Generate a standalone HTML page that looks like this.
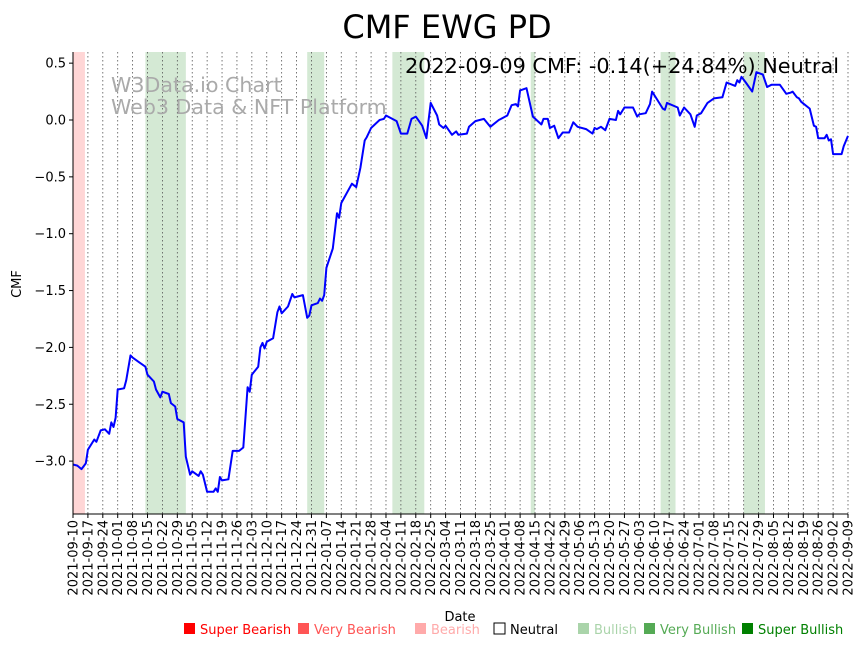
<!DOCTYPE html>
<html><head><meta charset="utf-8"><style>
body{margin:0;background:#fff;font-family:"DejaVu Sans","Liberation Sans",sans-serif}
svg text{font-family:"DejaVu Sans","Liberation Sans",sans-serif}
</style></head><body>
<svg id="chart" width="864" height="646" xmlns="http://www.w3.org/2000/svg">
<rect width="864" height="646" fill="#fff"/>
<g id="bands"></g><g id="grid"></g><g id="line"></g>
<text x="447" y="38" font-size="32" text-anchor="middle">CMF EWG PD</text>
<text x="111" y="92" font-size="20.6" fill="#aaa">W3Data.io Chart</text>
<text x="111" y="114" font-size="20.6" fill="#aaa">Web3 Data &amp; NFT Platform</text>
<text x="839" y="73" font-size="20.8" text-anchor="end">2022-09-09 CMF: -0.14(+24.84%) Neutral</text>
<g id="axes"></g>
<text transform="translate(21,284) rotate(-90)" font-size="13" text-anchor="middle">CMF</text>
<text x="460" y="621" font-size="13" text-anchor="middle">Date</text>
<g id="legend" font-size="13"></g>
</svg>
<script>
const days=[0,2,4,6,7,10,11,13,15,17,18,19,20,21,24,25,27,28,31,34,35,38,39,41,42,45,46,48,49,52,53,55,56,59,60,61,63,66,67,68,69,70,73,75,78,80,81,82,83,84,87,88,89,90,91,94,96,97,98,101,103,104,108,110,111,112,115,116,117,118,119,122,124,125,126,131,133,135,137,138,140,144,146,147,152,154,157,159,161,164,166,168,171,172,174,175,178,180,181,185,186,189,193,196,200,201,204,206,208,209,210,213,216,220,221,223,224,226,228,230,233,235,237,241,244,245,246,248,250,252,255,256,257,259,263,265,266,269,271,272,274,277,278,279,284,285,287,290,292,293,295,298,301,305,307,311,312,313,314,316,319,321,324,326,328,332,335,337,338,340,341,342,346,348,349,350,353,354,355,356,357,361,362,364];
const cmf=[-3.03,-3.04,-3.07,-3.02,-2.90,-2.81,-2.83,-2.73,-2.72,-2.76,-2.66,-2.70,-2.62,-2.37,-2.36,-2.29,-2.07,-2.09,-2.13,-2.17,-2.24,-2.30,-2.37,-2.44,-2.39,-2.41,-2.49,-2.52,-2.63,-2.66,-2.96,-3.12,-3.09,-3.13,-3.09,-3.12,-3.27,-3.27,-3.24,-3.27,-3.14,-3.17,-3.16,-2.91,-2.91,-2.88,-2.61,-2.35,-2.39,-2.24,-2.17,-2.00,-1.96,-2.01,-1.95,-1.92,-1.69,-1.64,-1.70,-1.64,-1.53,-1.56,-1.54,-1.74,-1.72,-1.63,-1.61,-1.57,-1.59,-1.54,-1.30,-1.13,-0.82,-0.86,-0.73,-0.56,-0.59,-0.42,-0.18,-0.15,-0.07,0.00,0.01,0.04,-0.01,-0.12,-0.12,0.01,0.03,-0.05,-0.16,0.15,0.04,-0.04,-0.07,-0.05,-0.13,-0.10,-0.13,-0.12,-0.06,-0.01,0.01,-0.06,0.00,0.01,0.04,0.13,0.14,0.12,0.26,0.28,0.03,-0.04,0.01,0.01,-0.07,-0.05,-0.16,-0.11,-0.11,-0.02,-0.06,-0.08,-0.12,-0.07,-0.08,-0.06,-0.09,0.01,0.00,0.08,0.05,0.11,0.11,0.03,0.05,0.06,0.14,0.25,0.19,0.10,0.09,0.15,0.11,0.04,0.11,0.05,-0.06,0.04,0.06,0.15,0.19,0.20,0.33,0.30,0.35,0.33,0.38,0.33,0.25,0.42,0.40,0.29,0.31,0.31,0.23,0.24,0.25,0.20,0.19,0.16,0.10,-0.05,-0.06,-0.16,-0.16,-0.13,-0.18,-0.17,-0.30,-0.30,-0.23,-0.14];
const bandStart=[0,34,110,150,215,276,315];
const bandEnd=[5.6,53,118,165,217,283,325];
const bandType=['red','green','green','green','green','green','green'];
const yTicks=[0.5,0,-0.5,-1,-1.5,-2,-2.5,-3];
const yTickLabels=['0.5','0.0','−0.5','−1.0','−1.5','−2.0','−2.5','−3.0'];
const xTickLabels=['2021-09-10','2021-09-17','2021-09-24','2021-10-01','2021-10-08','2021-10-15','2021-10-22','2021-10-29','2021-11-05','2021-11-12','2021-11-19','2021-11-26','2021-12-03','2021-12-10','2021-12-17','2021-12-24','2021-12-31','2022-01-07','2022-01-14','2022-01-21','2022-01-28','2022-02-04','2022-02-11','2022-02-18','2022-02-25','2022-03-04','2022-03-11','2022-03-18','2022-03-25','2022-04-01','2022-04-08','2022-04-15','2022-04-22','2022-04-29','2022-05-06','2022-05-13','2022-05-20','2022-05-27','2022-06-03','2022-06-10','2022-06-17','2022-06-24','2022-07-01','2022-07-08','2022-07-15','2022-07-22','2022-07-29','2022-08-05','2022-08-12','2022-08-19','2022-08-26','2022-09-02','2022-09-09'];
const legendLabels=['Super Bearish','Very Bearish','Bearish','Neutral','Bullish','Very Bullish','Super Bullish'];
const legendColors=['#ff0000','#ff5555','#ffaaaa','#ffffff','#aad4aa','#55aa55','#008000'];

const L=73,R=848,T=52,B=514;
const X=d=>L+d*(R-L)/364;
const Y=v=>120-v*113.7;
const NS='http://www.w3.org/2000/svg';
function mk(tag,attrs,parent){const e=document.createElementNS(NS,tag);for(const k in attrs)e.setAttribute(k,attrs[k]);parent.appendChild(e);return e;}
const bands=document.getElementById('bands');
bandStart.forEach((s,i)=>{
  const r=mk('rect',{x:X(s),y:T,width:X(bandEnd[i])-X(s),height:B-T,fill:bandType[i]==='red'?'#ffd6d6':'#d4e9d4'},bands);
  
  
});
const grid=document.getElementById('grid'),axes=document.getElementById('axes');
xTickLabels.forEach((lab,i)=>{
  const x=X(i*7);
  const g=mk('line',{x1:x,x2:x,y1:T,y2:B,stroke:'#555','stroke-width':0.8,'stroke-dasharray':'1.5,2.5'},grid);
  
  
  mk('line',{x1:x,x2:x,y1:B,y2:B+4,stroke:'#000','stroke-width':1},axes);
  const t=mk('text',{transform:`translate(${x+4.5},${B+6}) rotate(-90)`,'font-size':13,'text-anchor':'end'},axes);
  t.textContent=lab;
  
  
});
yTicks.forEach((v,i)=>{
  const y=Y(v);
  mk('line',{x1:L-4,x2:L,y1:y,y2:y,stroke:'#000'},axes);
  const t=mk('text',{x:L-7,y:y+4.5,'font-size':13,'text-anchor':'end'},axes);
  t.textContent=yTickLabels[i];
  
  
});
const ax=mk('path',{d:`M${L},${T}V${B}H${R}`,fill:'none',stroke:'#000','stroke-width':1},axes);


const p=mk('path',{d:days.map((d,i)=>(i?'L':'M')+X(d).toFixed(1)+','+Y(cmf[i]).toFixed(1)).join(''),fill:'none',stroke:'#0000ff','stroke-width':2,'stroke-linejoin':'round'},document.getElementById('line'));


const leg=document.getElementById('legend');
const lx=[184,298,415,494,578,644,742];
legendLabels.forEach((lab,i)=>{
  const r=mk('rect',{x:lx[i],y:623,width:11,height:11,fill:legendColors[i],stroke:i===3?'#000':'none'},leg);
  
  
  const t=mk('text',{x:lx[i]+16,y:634,fill:i===3?'#000':legendColors[i]},leg);
  t.textContent=lab;
  
  
});
</script>
</body></html>
